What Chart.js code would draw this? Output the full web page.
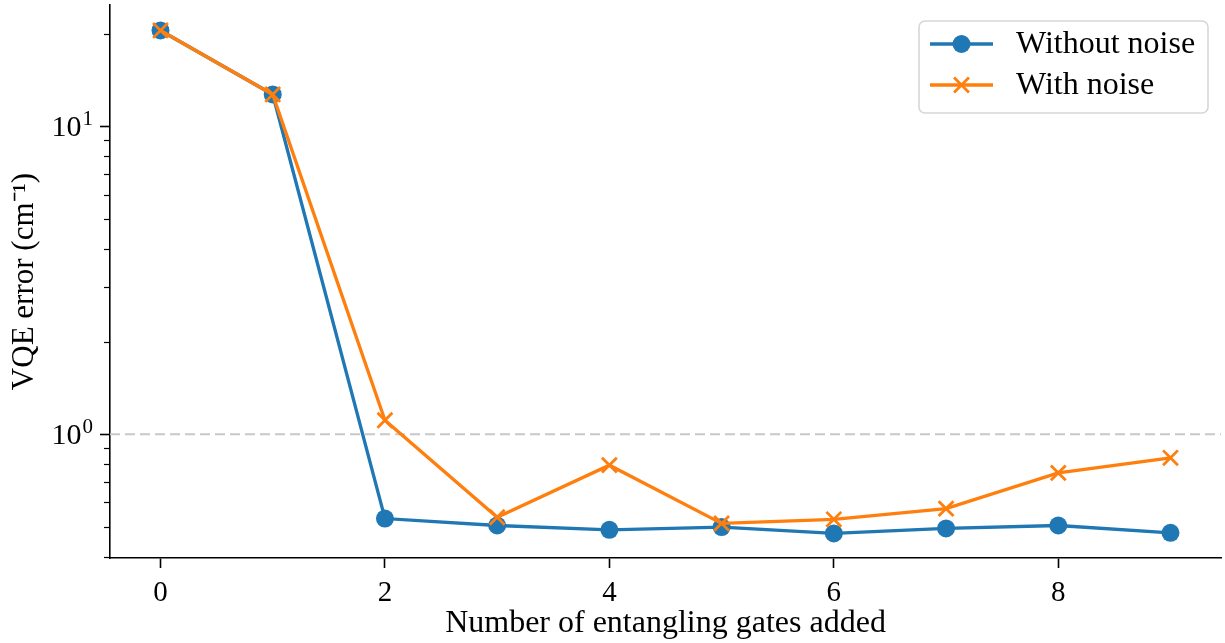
<!DOCTYPE html>
<html>
<head>
<meta charset="utf-8">
<title>VQE error vs entangling gates</title>
<script src="https://cdn.jsdelivr.net/npm/chart.js@4/dist/chart.umd.min.js"></script>
<style>
    html, body { margin: 0; padding: 0; background: #ffffff; }
    #wrap { width: 1225px; height: 643px; }
</style>
</head>
<body>
<div id="wrap"><canvas id="vqeChart" width="1225" height="643"></canvas></div>
<script>
// Data
const gatesAdded = [0, 1, 2, 3, 4, 5, 6, 7, 8, 9];
const errorWithoutNoise = [20.5, 12.7, 0.532, 0.505, 0.489, 0.499, 0.476, 0.494, 0.505, 0.478];
const errorWithNoise = [20.5, 12.7, 1.11, 0.537, 0.793, 0.513, 0.529, 0.573, 0.749, 0.838];
const xTickValues = [0, 2, 4, 6, 8];
const yMajorTicks = [1, 10];
const yMinorTicks = [0.4, 0.5, 0.6, 0.7, 0.8, 0.9, 2, 3, 4, 5, 6, 7, 8, 9, 20];
const referenceLevel = 1;

const BLUE = '#1f77b4';
const ORANGE = '#ff7f0e';
const FONT = '"Liberation Serif", "Times New Roman", serif';

const toPoints = (ys) => gatesAdded.map((x, i) => ({ x: x, y: ys[i] }));

// Dashed gray line at the reference level, minor y ticks, 10^n labels
const extrasPlugin = {
    id: 'extras',
    beforeDatasetsDraw(chart) {
        const { ctx, chartArea, scales } = chart;
        const y = scales.y.getPixelForValue(referenceLevel);
        ctx.save();
        ctx.strokeStyle = '#c8c8c8';
        ctx.lineWidth = 2;
        ctx.setLineDash([10, 5]);
        ctx.beginPath();
        ctx.moveTo(chartArea.left, y);
        ctx.lineTo(chartArea.right, y);
        ctx.stroke();
        ctx.restore();
    },
    afterDraw(chart) {
        const { ctx, chartArea, scales } = chart;
        ctx.save();
        ctx.strokeStyle = '#000';
        ctx.lineWidth = 1.2;
        yMinorTicks.forEach(v => {
            const y = Math.round(scales.y.getPixelForValue(v)) + 0.5;
            if (y < chartArea.top - 1 || y > chartArea.bottom + 1) return;
            ctx.beginPath();
            ctx.moveTo(chartArea.left - 6, y);
            ctx.lineTo(chartArea.left, y);
            ctx.stroke();
        });

        // tick labels as 10 with a raised exponent
        ctx.fillStyle = '#000';
        ctx.textBaseline = 'alphabetic';
        ctx.textAlign = 'left';
        const rightEdge = chartArea.left - 17;
        yMajorTicks.forEach(v => {
            const y = scales.y.getPixelForValue(v);
            const exp = String(Math.round(Math.log10(v)));
            ctx.font = '21px ' + FONT;
            const expW = ctx.measureText(exp).width;
            ctx.font = '30px ' + FONT;
            const baseW = ctx.measureText('10').width;
            const x0 = rightEdge - expW - baseW - 1;
            ctx.fillText('10', x0, y + 10);
            ctx.font = '21px ' + FONT;
            ctx.fillText(exp, x0 + baseW + 1, y - 1);
        });
        ctx.restore();
    }
};

// matplotlib-like legend: line sample with marker in the middle
const legendPlugin = {
    id: 'mplLegend',
    afterDraw(chart) {
        const { ctx } = chart;
        const box = { x: 919, y: 21, w: 289, h: 92, r: 6 };
        ctx.save();
        ctx.fillStyle = 'rgba(255,255,255,0.8)';
        ctx.strokeStyle = '#d6d6d6';
        ctx.lineWidth = 1.6;
        ctx.beginPath();
        ctx.roundRect(box.x, box.y, box.w, box.h, box.r);
        ctx.fill();
        ctx.stroke();

        const rows = [44, 85];
        chart.data.datasets.forEach((ds, i) => {
            const y = rows[i];
            ctx.strokeStyle = ds.borderColor;
            ctx.lineWidth = ds.borderWidth;
            ctx.beginPath();
            ctx.moveTo(930, y);
            ctx.lineTo(993, y);
            ctx.stroke();
            if (ds.pointStyle === 'circle') {
                ctx.fillStyle = ds.pointBackgroundColor;
                ctx.beginPath();
                ctx.arc(961.5, y, ds.pointRadius, 0, Math.PI * 2);
                ctx.fill();
            } else {
                ctx.lineWidth = ds.pointBorderWidth;
                Chart.helpers.drawPoint(ctx, {
                    pointStyle: ds.pointStyle,
                    radius: ds.pointRadius,
                    borderWidth: ds.pointBorderWidth
                }, 961.5, y);
            }
            ctx.fillStyle = '#000';
            ctx.font = '32px ' + FONT;
            ctx.textBaseline = 'middle';
            ctx.textAlign = 'left';
            ctx.fillText(ds.label, 1016, y + 1);
        });
        ctx.restore();
    }
};

const config = {
    type: 'line',
    data: {
        datasets: [
            {
                label: 'Without noise',
                data: toPoints(errorWithoutNoise),
                borderColor: BLUE,
                backgroundColor: BLUE,
                pointBackgroundColor: BLUE,
                pointBorderColor: BLUE,
                pointStyle: 'circle',
                pointRadius: 9,
                pointBorderWidth: 0,
                borderWidth: 3.3,
                order: 1
            },
            {
                label: 'With noise',
                data: toPoints(errorWithNoise),
                borderColor: ORANGE,
                backgroundColor: ORANGE,
                pointBackgroundColor: ORANGE,
                pointBorderColor: ORANGE,
                pointStyle: 'crossRot',
                pointRadius: 10.5,
                pointBorderWidth: 2.8,
                borderWidth: 3.3,
                order: 0
            }
        ]
    },
    options: {
        responsive: false,
        animation: false,
        devicePixelRatio: 1,
        layout: { autoPadding: false, padding: { top: 5, right: 4, left: 0, bottom: 0 } },
        plugins: {
            legend: { display: false },
            tooltip: { enabled: false }
        },
        elements: { line: { tension: 0 } },
        scales: {
            x: {
                type: 'linear',
                min: -0.45,
                max: 9.45,
                afterBuildTicks: (scale) => {
                    scale.ticks = xTickValues.map(v => ({ value: v }));
                },
                afterFit: (scale) => {
                    scale.height = 85;
                    scale.paddingLeft = 0;
                    scale.paddingRight = 0;
                },
                grid: {
                    drawOnChartArea: false,
                    drawTicks: true,
                    tickLength: 10,
                    tickColor: '#000',
                    tickWidth: 1.6
                },
                border: { display: true, color: '#000', width: 1.6 },
                ticks: {
                    color: '#000',
                    padding: 8,
                    maxRotation: 0,
                    font: { family: FONT, size: 29 }
                },
                title: {
                    display: true,
                    text: 'Number of entangling gates added',
                    color: '#000',
                    padding: { top: 0, bottom: 0 },
                    font: { family: FONT, size: 32 }
                }
            },
            y: {
                type: 'logarithmic',
                min: 0.396,
                max: 24.8,
                afterBuildTicks: (scale) => {
                    scale.ticks = yMajorTicks.map(v => ({ value: v, major: true }));
                },
                afterFit: (scale) => {
                    scale.width = 110;
                    scale.paddingTop = 0;
                    scale.paddingBottom = 0;
                },
                grid: {
                    drawOnChartArea: false,
                    drawTicks: true,
                    tickLength: 10,
                    tickColor: '#000',
                    tickWidth: 1.6
                },
                border: { display: true, color: '#000', width: 1.6 },
                ticks: {
                    color: '#000',
                    padding: 8,
                    autoSkip: false,
                    font: { family: FONT, size: 30 },
                    callback: () => ''   // drawn by the extras plugin
                },
                title: {
                    display: true,
                    text: 'VQE error (cm\u207b\u00b9)',
                    color: '#000',
                    padding: { top: 6, bottom: 0 },
                    font: { family: FONT, size: 31 }
                }
            }
        }
    },
    plugins: [extrasPlugin, legendPlugin]
};

new Chart(document.getElementById('vqeChart'), config);
</script>
</body>
</html>
